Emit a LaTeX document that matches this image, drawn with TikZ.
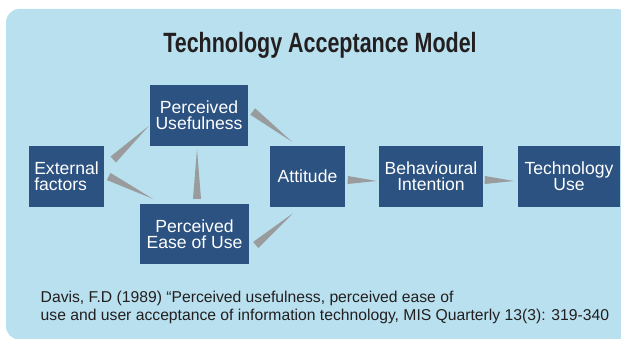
\documentclass[tikz,border=0pt]{standalone}
\usepackage{fontspec}
\setmainfont{Liberation Sans}
\newfontfamily\titlefont[FakeStretch=0.77]{Liberation Sans}
\usetikzlibrary{calc}

\definecolor{bgblue}{HTML}{B8E0EE}
\definecolor{boxblue}{HTML}{2C5282}
\definecolor{wedgegrey}{HTML}{9A9B9D}
\definecolor{inkgrey}{HTML}{231F20}

% tapering grey connector: wide end at #1, point at #2
\newcommand\wedgearrow[2]{%
  \fill[wedgegrey] ($(#1)!0.12cm!90:(#2)$) -- ($(#1)!0.12cm!-90:(#2)$) -- (#2) -- cycle;}

\begin{document}
\begin{tikzpicture}[x=0.03cm, y=-0.03cm,
    b/.style={fill=boxblue, text=white, inner sep=0pt, minimum height=1.83cm,
        align=center, font=\fontsize{15}{13.6}\selectfont}]
    \useasboundingbox (0,0) rectangle (621,339);
    \fill[bgblue, rounded corners=0.4cm] (6,9) rectangle (630,339.5);

    \node[font=\titlefont\bfseries\fontsize{23.8}{26}\selectfont, text=inkgrey, anchor=base]
        (title) at (320,53) {Technology Acceptance Model};

    \node[b, minimum width=2.25cm, align=left] (ext) at (66.5,176.5) {External\\factors};
    \node[b, minimum width=2.94cm] (pu) at (199,115.5) {Perceived\\Usefulness};
    \node[b, minimum width=3.27cm, minimum height=1.8cm] (peu) at (194.5,234) {Perceived\\Ease of Use};
    \node[b, minimum width=2.25cm] (att) at (307.5,176.5) {Attitude};
    \node[b, minimum width=3.12cm] (bi) at (431,176.5) {Behavioural\\Intention};
    \node[b, minimum width=3.06cm] (tu) at (569,176.5) {Technology\\Use};

    % ends of the wedges, a little off the box edges
    \coordinate (e1) at ($(ext.east)+(9,-17)$);
    \coordinate (p1) at ($(pu.west)+(-1,10.5)$);
    \coordinate (e2) at ($(ext.east)+(4.5,0)$);
    \coordinate (q2) at ($(peu.north west)+(13,-5)$);
    \coordinate (q3) at ($(peu.north)+(2.5,-5)$);
    \coordinate (p3) at ($(pu.south)+(-2,3)$);
    \coordinate (p4) at ($(pu.east)+(4.5,-4)$);
    \coordinate (a4) at ($(att.north)+(-15.5,-4)$);
    \coordinate (q5) at ($(peu.east)+(6.5,11)$);
    \coordinate (a5) at ($(att.south)+(-14.5,6)$);
    \coordinate (a6) at ($(att.east)+(2.5,3.5)$);
    \coordinate (b6) at ($(bi.west)+(-2,4.5)$);
    \coordinate (b7) at ($(bi.east)+(1.5,3.5)$);
    \coordinate (t7) at ($(tu.west)+(-4,4.5)$);

    \wedgearrow{e1}{p1}
    \wedgearrow{e2}{q2}
    \wedgearrow{q3}{p3}
    \wedgearrow{p4}{a4}
    \wedgearrow{q5}{a5}
    \wedgearrow{a6}{b6}
    \wedgearrow{b7}{t7}

    \node[anchor=base west, align=left, text=inkgrey, inner sep=0pt,
        font=\fontsize{13.4}{14.6}\selectfont] (ref) at (40.5,320)
        {Davis, F.D (1989) “Perceived usefulness, perceived ease of\\
         use and user acceptance of information technology, MIS Quarterly 13(3): 319-340};
\end{tikzpicture}
\end{document}
